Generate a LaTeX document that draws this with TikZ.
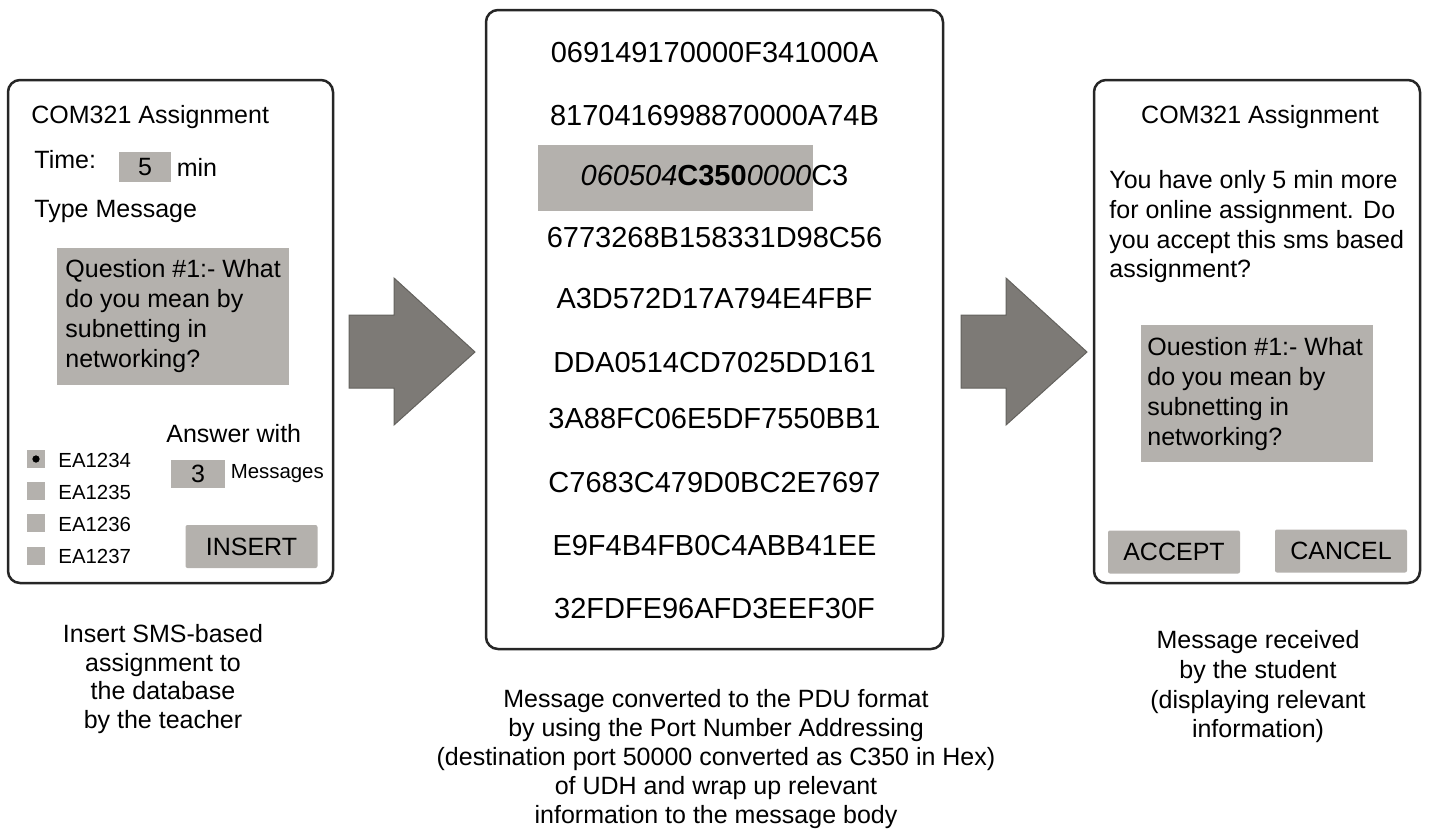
\documentclass[tikz,border=0pt]{standalone}
\usepackage{fontspec}
\setmainfont{Liberation Sans}
\usepackage{xcolor}
\usetikzlibrary{positioning}
\definecolor{boxgray}{HTML}{B4B1AD}
\definecolor{arrowgray}{HTML}{7D7A76}
\definecolor{framegray}{HTML}{262626}
\newcommand{\blockarrow}[2]{
    \pgfmathsetmacro{\bx}{#1}
    \pgfmathsetmacro{\tx}{#2}
    \pgfmathsetmacro{\hx}{\bx + 45}
    \filldraw[fill=arrowgray, draw=arrowgray!80!black, line width=0.5pt] (\bx, 315) -- (\hx, 315) -- (\hx, 278) -- (\tx, 352) -- (\hx, 425) -- (\hx, 388) -- (\bx, 388) -- cycle;
}

\begin{document}
\begin{tikzpicture}[x=0.5pt, y=-0.5pt,
    txt/.style={inner sep=0pt, font=\fontsize{12.5}{15}\selectfont},
    small/.style={inner sep=0pt, font=\fontsize{10.2}{12}\selectfont},
    hex/.style={inner sep=0pt, anchor=base, font=\fontsize{14.5}{17}\selectfont},
    phone/.style={draw=framegray, line width=1.25pt, rounded corners=6pt},
    field/.style={fill=boxgray, inner sep=0pt, font=\fontsize{12.5}{15}\selectfont},
    btn/.style={field, rounded corners=1pt, minimum width=66pt, minimum height=21.5pt}]
                \useasboundingbox (0, 0) rectangle (1429, 832);
                % teacher screen
                \draw[phone] (8, 80) rectangle (333, 583);
                \node[txt, anchor=base west] (t-title) at (31, 123) {COM321 Assignment};
                \node[txt, anchor=base west] (t-time) at (34, 168) {Time:};
                \node[field, minimum width=26pt, minimum height=15pt] (t-five) at (145, 167) {5};
                \node[txt, right=2.5pt of t-five] (t-min) {min};
                \node[txt, anchor=base west] (t-type) at (34, 217) {Type Message};
                \node[field, anchor=north west, minimum width=116pt, minimum height=68.5pt] (t-quest) at (57, 248) {};
                \foreach \yb/\txt [count=\k] in {277/Question \#1:- What, 307/do you mean by, 337/subnetting in, 367/networking?} {
                    \node[txt, anchor=base west] (t-q\k) at (65, \yb) {\txt};
                }
                \node[txt, anchor=base west] (t-answer) at (166, 442) {Answer with};
                \foreach \id [count=\k from 0] in {1234, 1235, 1236, 1237} {
                    \fill[boxgray] (27, 450 + 32.2*\k) rectangle ++(18, 18);
                    \node[small, anchor=base west] (t-ea\k) at (58, 467 + 32*\k) {EA\id};
                }
                \filldraw[black] (36, 459) circle (1.6pt);
                \node[field, minimum width=27pt, minimum height=14pt] (t-three) at (198, 474) {3};
                \node[small, right=2.5pt of t-three] (t-msgs) {Messages};
                \node[btn] (t-insert) at (251.5, 546.5) {INSERT};
                \foreach \yb/\txt [count=\k] in {642/Insert SMS-based, 671/assignment to, 699/the database, 728/by the teacher} {
                    \node[txt, anchor=base] (t-cap\k) at (163, \yb) {\txt};
                }

                \blockarrow{349}{475}

                % PDU screen
                \draw[phone] (486, 10) rectangle (943, 649);
                \node[field, anchor=north west, minimum width=137.5pt, minimum height=33pt] (p-mark) at (538, 145) {};
                \foreach \yb/\hx [count=\k] in {62/069149170000F341000A, 125/8170416998870000A74B, 247/6773268B158331D98C56, 308/A3D572D17A794E4FBF, 372/DDA0514CD7025DD161, 428/3A88FC06E5DF7550BB1, 492/C7683C479D0BC2E7697, 555/E9F4B4FB0C4ABB41EE, 618/32FDFE96AFD3EEF30F} {
                    \node[hex] (p-hex\k) at (714.5, \yb) {\hx};
                }
                \node[hex] (p-udh) at (714.5, 185) {\textit{060504}\textbf{C350}\textit{0000}C3};
                \foreach \yb/\txt [count=\k] in {707/Message converted to the PDU format, 736/by using the Port Number Addressing, 765/(destination port 50000 converted as C350 in Hex), 794/of UDH and wrap up relevant, 823/information to the message body} {
                    \node[txt, anchor=base] (p-cap\k) at (716, \yb) {\txt};
                }

                \blockarrow{961}{1087}

                % student screen
                \draw[phone] (1094, 80) rectangle (1420, 583);
                \node[txt, anchor=base] (s-title) at (1260, 123) {COM321 Assignment};
                \foreach \yb/\txt [count=\k] in {188/You have only 5 min more, 218/for online assignment. Do, 248/you accept this sms based, 277/assignment?} {
                    \node[txt, anchor=base west] (s-note\k) at (1109, \yb) {\txt};
                }
                \node[field, anchor=north west, minimum width=116pt, minimum height=68.5pt] (s-quest) at (1141, 325) {};
                \foreach \yb/\txt [count=\k] in {355/Ouestion \#1:- What, 385/do you mean by, 415/subnetting in, 445/networking?} {
                    \node[txt, anchor=base west] (s-q\k) at (1147, \yb) {\txt};
                }
                \node[btn] (s-accept) at (1174, 552) {ACCEPT};
                \node[btn] (s-cancel) at (1341, 551) {CANCEL};
                \foreach \yb/\txt [count=\k] in {648/Message received, 678/by the student, 708/(displaying relevant, 737/information)} {
                    \node[txt, anchor=base] (s-cap\k) at (1258, \yb) {\txt};
                }
            \end{tikzpicture}
\end{document}
